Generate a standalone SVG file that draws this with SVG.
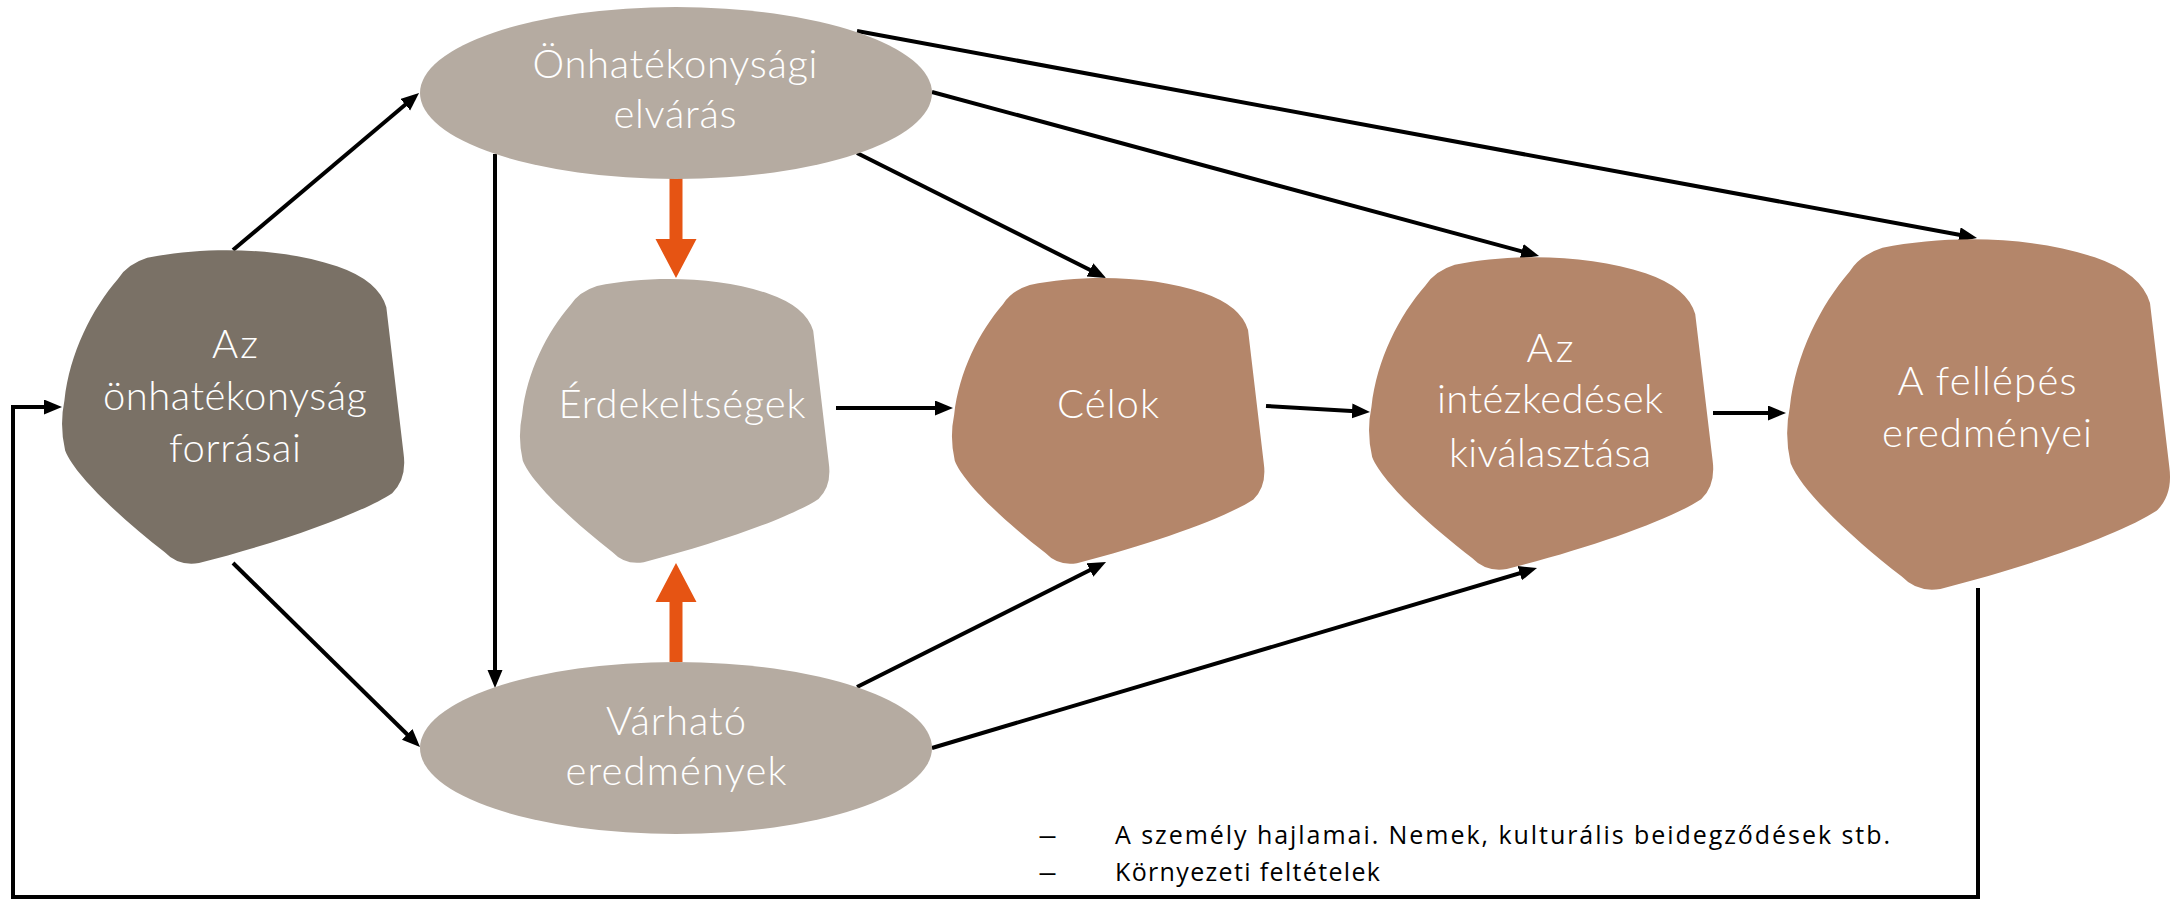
<svg xmlns="http://www.w3.org/2000/svg" width="2174" height="899" viewBox="0 0 2174 899">
  <style>
    .lbl { font-family: "Lato", "Noto Sans", "Liberation Sans", sans-serif; font-size: 40px; font-weight: 300; fill: #ffffff; text-anchor: middle; }
    .note { font-family: "Open Sans", "Noto Sans", "Liberation Sans", sans-serif; font-size: 25px; font-weight: 400; fill: #000000; }
    .dark { fill: #7a7166; }
    .light { fill: #b5aba1; }
    .brown { fill: #b4866a; }
    .conn { fill: none; stroke: #000000; stroke-width: 4; }
    .arr { marker-end: url(#head); }
    .orange { fill: #e65413; }
  </style>
  <defs>
    <!-- rounded irregular pentagon in a 1000x1000 box -->
    <path id="blob" d="M 10,480 C 25,330 90,190 165,95 Q 192,48 250,28 C 420,-10 640,-5 800,55 Q 920,100 943,185 L 993,650 Q 1003,730 960,775 C 870,840 640,930 400,997 Q 340,1008 300,962 C 180,860 40,720 12,640 Q -5,560 10,480 Z"/>
    <marker id="head" markerUnits="userSpaceOnUse" markerWidth="20" markerHeight="16" refX="8" refY="7.5" orient="auto">
      <path d="M0,0 L18,7.5 L0,15 Z" fill="#000000"/>
    </marker>
  </defs>

  <!-- connectors -->
  <g id="connectors">
    <path class="conn arr" d="M233,250 L411.4,99.5"/>
    <path class="conn arr" d="M233,563 L412.9,740"/>
    <path class="conn arr" d="M495,154 L495,678"/>
    <path class="conn arr" d="M857,153 L1097.1,273.5"/>
    <path class="conn arr" d="M932,92 L1529.4,253.4"/>
    <path class="conn arr" d="M857,31 L1967.2,236.2"/>
    <path class="conn arr" d="M857,687 L1097.1,566.5"/>
    <path class="conn arr" d="M932,748 L1527.4,570.9"/>
    <path class="conn arr" d="M836,408 L943,408"/>
    <path class="conn arr" d="M1266,406 L1360,411.4"/>
    <path class="conn arr" d="M1713,413 L1776,413"/>
    <path class="conn arr" d="M1978,588 L1978,897 L13,897 L13,407 L52,407"/>
    <polygon class="orange" points="669.5,178 682.5,178 682.5,239 696.5,239 676,278 655.5,239 669.5,239"/>
    <polygon class="orange" points="669.5,662 682.5,662 682.5,602 696.5,602 676,563 655.5,602 669.5,602"/>
  </g>

  <g id="forrasai">
    <use href="#blob" class="dark" transform="translate(61,249) scale(0.345,0.315)"/>
    <text class="lbl" x="235" y="358" textLength="46">Az</text>
    <text class="lbl" x="235" y="410" textLength="264">önhatékonyság</text>
    <text class="lbl" x="235" y="462" textLength="132">forrásai</text>
  </g>

  <g id="elvaras">
    <ellipse class="light" cx="676" cy="93" rx="256" ry="86"/>
    <text class="lbl" x="675" y="78" textLength="285">Önhatékonysági</text>
    <text class="lbl" x="675" y="128" textLength="123">elvárás</text>
  </g>

  <g id="erdekeltsegek">
    <use href="#blob" class="light" transform="translate(519,278) scale(0.312,0.285)"/>
    <text class="lbl" x="682" y="418" textLength="247">Érdekeltségek</text>
  </g>

  <g id="celok">
    <use href="#blob" class="brown" transform="translate(951,277) scale(0.315,0.287)"/>
    <text class="lbl" x="1108" y="418" textLength="102">Célok</text>
  </g>

  <g id="intezkedesek">
    <use href="#blob" class="brown" transform="translate(1368,256) scale(0.347,0.314)"/>
    <text class="lbl" x="1550" y="362" textLength="47">Az</text>
    <text class="lbl" x="1550" y="413" textLength="226">intézkedések</text>
    <text class="lbl" x="1550" y="467" textLength="202">kiválasztása</text>
  </g>

  <g id="fellepes">
    <use href="#blob" class="brown" transform="translate(1786,238) scale(0.386,0.352)"/>
    <text class="lbl" x="1987" y="395" textLength="179">A fellépés</text>
    <text class="lbl" x="1987" y="447" textLength="210">eredményei</text>
  </g>

  <g id="varhato">
    <ellipse class="light" cx="676" cy="748" rx="256" ry="86"/>
    <text class="lbl" x="676" y="735" textLength="140">Várható</text>
    <text class="lbl" x="676" y="785" textLength="221">eredmények</text>
  </g>

  <g id="megjegyzes">
    <text class="note" x="1038" y="844" textLength="19" lengthAdjust="spacingAndGlyphs">–</text>
    <text class="note" x="1115" y="844" textLength="775">A személy hajlamai. Nemek, kulturális beidegződések stb.</text>
    <text class="note" x="1038" y="881" textLength="19" lengthAdjust="spacingAndGlyphs">–</text>
    <text class="note" x="1115" y="881" textLength="265">Környezeti feltételek</text>
  </g>
</svg>
